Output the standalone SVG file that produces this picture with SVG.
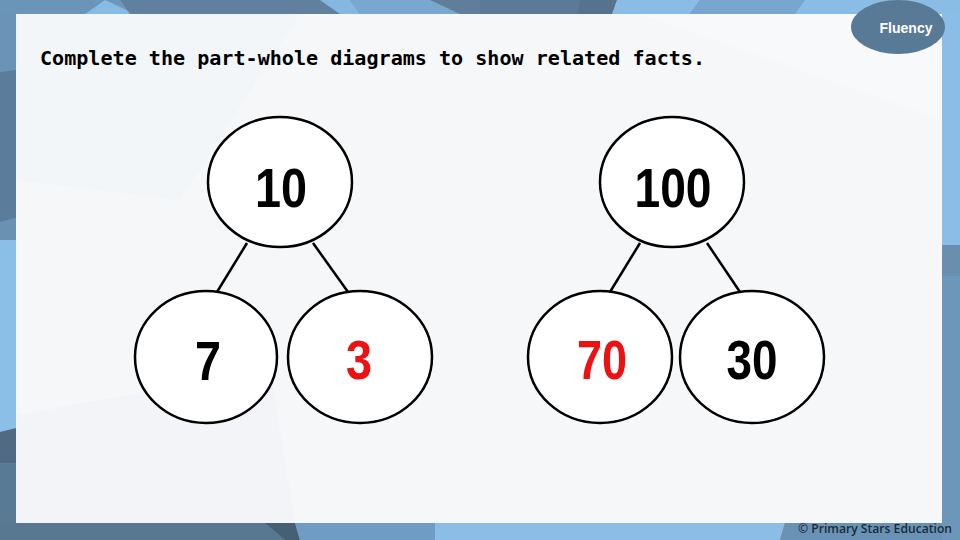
<svg xmlns="http://www.w3.org/2000/svg" width="960" height="540" viewBox="0 0 960 540">
  <defs>
    <style>
      .node { fill: #ffffff; stroke: #000000; stroke-width: 2.5; }
      .conn { stroke: #000000; stroke-width: 2.5; fill: none; }
      .num { font-family: "Liberation Sans", Arial, sans-serif; font-weight: bold; font-size: 56px; text-anchor: middle; }
      .black { fill: #000000; }
      .red { fill: #ee1111; }
    </style>
  </defs>

  <!-- background frame -->
  <g id="background">
    <rect x="0" y="0" width="960" height="540" fill="#6d97ba"/>
    <polygon points="0,0 95,0 95,14 0,14" fill="#6b94b9"/>
    <polygon points="85,14 105,0 135,14" fill="#86bbe5"/>
    <polygon points="120,0 320,0 340,14 130,14" fill="#5f809f"/>
    <polygon points="320,0 350,0 360,14 340,14" fill="#86b7e0"/>
    <polygon points="350,0 440,0 470,14 360,14" fill="#7aa7cf"/>
    <polygon points="430,0 480,0 480,14 460,14" fill="#5e7e9c"/>
    <polygon points="480,0 615,0 615,14 480,14" fill="#5a7a97"/>
    <polygon points="580,0 617,0 612,14 578,14" fill="#55728e"/>
    <polygon points="617,0 700,0 690,14 612,14" fill="#8abde6"/>
    <polygon points="700,0 805,0 795,14 690,14" fill="#78a6cf"/>
    <polygon points="805,0 960,0 960,14 795,14" fill="#8abde6"/>
    <polygon points="0,14 16,14 16,70 0,72" fill="#6b93b7"/>
    <polygon points="0,72 16,70 16,218 0,222" fill="#5b7d9b"/>
    <polygon points="0,222 16,218 16,240 0,240" fill="#6a90b2"/>
    <polygon points="0,240 16,240 16,430 0,432" fill="#8bbfe8"/>
    <polygon points="0,432 16,428 16,463 0,463" fill="#4f6a82"/>
    <polygon points="0,463 16,463 16,540 0,540" fill="#587a94"/>
    <polygon points="942,14 960,14 960,245 942,245" fill="#8bbde6"/>
    <polygon points="942,245 960,245 960,276 942,276" fill="#6a8fae"/>
    <polygon points="942,276 960,276 960,540 942,540" fill="#6d97ba"/>
    <polygon points="0,523 265,523 285,540 0,540" fill="#587892"/>
    <polygon points="265,523 295,523 300,540 285,540" fill="#455f76"/>
    <polygon points="295,523 435,523 435,540 300,540" fill="#6f9cc4"/>
    <polygon points="435,523 785,523 780,540 435,540" fill="#8bbde6"/>
    <polygon points="785,523 942,523 942,540 780,540" fill="#6a92b5"/>
    <rect x="16" y="14" width="926" height="509" fill="#f5f7f9"/>
    <polygon points="16,14 300,14 180,200 16,180" fill="#f3f6f8"/>
    <polygon points="16,415 270,370 295,523 16,523" fill="#f2f4f7"/>
    <polygon points="640,14 942,14 942,120" fill="#f7f9fb"/>
  </g>

  <!-- Fluency badge -->
  <g id="fluency-badge">
    <ellipse cx="898" cy="27" rx="47" ry="27" fill="#587a97"/>
    <text x="906" y="33" font-family="'Liberation Sans', Arial, sans-serif" font-weight="bold" font-size="14" fill="#ffffff" text-anchor="middle">Fluency</text>
  </g>

  <!-- Title -->
  <g id="title">
    <text x="40" y="65" font-family="'DejaVu Sans Mono', 'Liberation Mono', monospace" font-weight="bold" font-size="20" fill="#000000" textLength="665" lengthAdjust="spacingAndGlyphs">Complete the part-whole diagrams to show related facts.</text>
  </g>

  <!-- Connectors -->
  <g id="connectors">
    <line class="conn" x1="247" y1="243" x2="217" y2="292"/>
    <line class="conn" x1="313" y1="243" x2="348" y2="292"/>
    <line class="conn" x1="640" y1="243" x2="610" y2="292"/>
    <line class="conn" x1="707" y1="243" x2="740" y2="292"/>
  </g>

  <!-- Left diagram -->
  <g id="whole-10">
    <ellipse class="node" cx="280" cy="182" rx="72" ry="65"/>
    <text class="num black" x="281" y="207" textLength="52" lengthAdjust="spacingAndGlyphs">10</text>
  </g>
  <g id="part-7">
    <ellipse class="node" cx="206" cy="357" rx="71" ry="66"/>
    <text class="num black" x="208" y="380" textLength="26" lengthAdjust="spacingAndGlyphs">7</text>
  </g>
  <g id="part-3">
    <ellipse class="node" cx="360" cy="357" rx="72" ry="66"/>
    <text class="num red" x="359" y="379" textLength="26" lengthAdjust="spacingAndGlyphs">3</text>
  </g>

  <!-- Right diagram -->
  <g id="whole-100">
    <ellipse class="node" cx="672" cy="182" rx="72" ry="65"/>
    <text class="num black" x="673" y="207" textLength="77" lengthAdjust="spacingAndGlyphs">100</text>
  </g>
  <g id="part-70">
    <ellipse class="node" cx="600" cy="357" rx="72" ry="66"/>
    <text class="num red" x="602" y="379" textLength="50" lengthAdjust="spacingAndGlyphs">70</text>
  </g>
  <g id="part-30">
    <ellipse class="node" cx="752" cy="357" rx="72" ry="66"/>
    <text class="num black" x="752" y="379" textLength="51" lengthAdjust="spacingAndGlyphs">30</text>
  </g>

  <!-- Footer -->
  <g id="footer">
    <text x="798" y="533" font-family="'Open Sans', 'Liberation Sans', sans-serif" font-weight="600" font-size="12.5" fill="#1c2a38" textLength="154" lengthAdjust="spacingAndGlyphs">© Primary Stars Education</text>
  </g>
</svg>
